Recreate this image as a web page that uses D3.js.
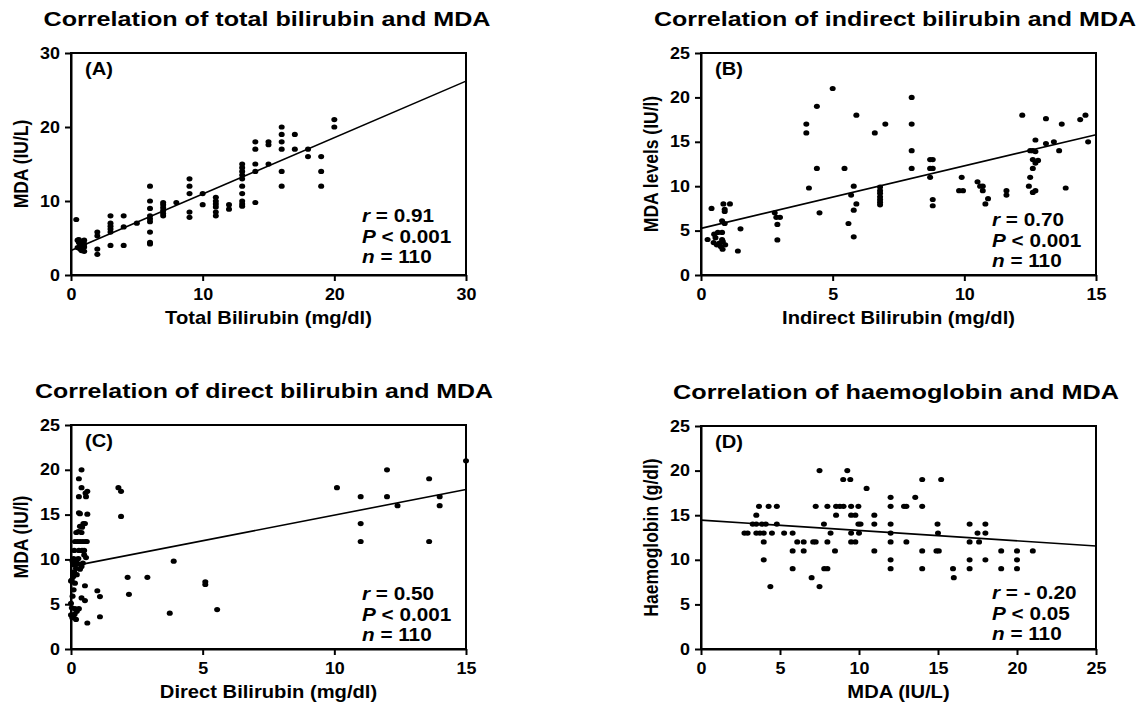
<!DOCTYPE html>
<html>
<head>
<meta charset="utf-8">
<script src="https://cdn.jsdelivr.net/npm/d3@7"></script>
<style>
  body { margin: 0; background: #fff; }
  svg text { font-family: "Liberation Sans", Arial, sans-serif; font-weight: bold; fill: #000; }
</style>
</head>
<body>
<div id="chart"></div>
<script>
// --- Données ---
const totalBiliMda = [
  [0.4,7.5],[0.5,4.7],[0.6,4.4],[0.7,4.0],[0.8,3.6],[1.0,4.7],[1.0,4.2],[1.0,3.8],[1.0,3.2],[0.5,3.7],
  [0.8,3.3],[0.6,4.8],[0.9,4.5],[0.7,3.5],
  [2,5.8],[2,5.3],[2,3.5],[2,2.8],
  [3,8],[3,7],[3,6.6],[3,6.2],[3,5.8],[3,4],
  [4,8],[4,6.5],[4,4],[5,7],
  [6,12],[6,10],[6,9],[6,8],[6,7.6],[6,7.2],[6,5.8],[6,4.4],[6,4.2],
  [7,9.8],[7,9.5],[7,9.1],[7,8.7],[7,8.3],[7,8.0],[8,9.8],
  [9,13],[9,12],[9,11],[9,8.5],[9,7.8],[10,11],[10,9.5],
  [11,10.5],[11,10],[11,9.6],[11,9.2],[11,8.5],[11,8],[12,9.5],[12,8.9],
  [13,15],[13,14.5],[13,14],[13,13.5],[13,13],[13,12],[13,11],[13,10],[13,9.6],[13,9.3],
  [14,18],[14,17],[14,15],[14,14],[14,9.8],[15,18],[15,17.6],[15,15],
  [16,20],[16,19],[16,18],[16,17],[16,14],[16,12],[17,19],[17,17],[18,17],[18,16],
  [19,16],[19,14],[19,12],[20,21],[20,20]
];

const indirectBiliMda = [
  [0.25,4],[0.4,7.5],[0.5,4.6],[0.64,4.8],[0.8,4.8],[0.48,3.65],[0.6,3.4],[0.75,3.2],[0.82,2.9],[0.8,4.0],
  [0.83,3.75],[0.92,3.4],[0.85,8.0],[0.9,7.4],[0.9,7.15],[1.1,8.0],[0.8,6.1],[0.9,5.8],[0.55,4.2],[0.7,3.6],
  [1.5,5.2],[1.4,2.7],
  [2.8,7.0],[2.86,6.5],[3.0,6.5],[2.9,5.7],[2.9,3.95],
  [4.0,17],[4.0,16],[4.1,9.8],[4.4,19],[4.4,12],[4.5,7.0],
  [5.0,21],[5.45,12],[5.6,5.8],[5.7,9.0],[5.8,10],[5.8,7.3],[5.9,8.0],[5.8,4.3],[5.9,18],
  [6.6,16],[7.0,17],
  [6.8,9.9],[6.8,9.5],[6.8,9.2],[6.8,8.8],[6.8,8.5],[6.8,8.2],[6.8,7.9],
  [8.0,20],[8.0,17],[8.0,14],[8.0,12],
  [8.7,13],[8.8,13],[8.7,12],[8.8,12],[8.7,11],[8.8,8.5],[8.8,7.8],
  [9.9,11],[9.8,9.5],[9.95,9.5],
  [10.5,10.5],[10.6,10],[10.7,10],[10.7,9.5],[10.8,8.0],[10.9,8.6],
  [11.6,9.5],[11.6,9.0],[12.2,18],
  [12.45,10],[12.5,11],[12.6,12],[12.5,14],[12.6,14],[12.6,13],[12.7,15.2],[12.7,13.9],[12.7,12.6],[12.8,12.9],
  [12.6,9.3],[12.7,9.5],
  [13.1,17.6],[13.1,14.8],[13.4,15],[13.6,14],[13.7,17],[13.85,9.8],
  [14.4,17.5],[14.6,18],[14.7,15]
];

const directBiliMda = [
  [0.4,20],[0.3,19],[0.4,18],[0.3,17],[0.62,17.6],[0.57,17],[0.55,17.4],
  [0.3,15.2],[0.34,15.1],[0.62,15.05],[0.47,14],[0.53,14],[0.34,13.7],[0.42,13.6],
  [0.2,13],[0.28,13.1],[0.4,13],
  [0.15,12],[0.25,12],[0.35,12],[0.45,12],[0.55,12],[0.6,12],
  [0.12,11],[0.3,11],[0.42,11],[0.5,11],
  [0.1,10.1],[0.28,10.1],[0.5,10.5],[0.57,10.2],
  [0.06,9.8],[0.19,9.7],[0.28,9.5],[0.4,9.2],[0.19,9.0],[0.34,8.9],[0.12,9.4],[0.45,9.6],[0.22,10.0],
  [0.03,7.7],[0.09,8.1],[0.15,7.35],[0.22,8.3],[0.0,7.6],[0.12,8.6],
  [0.1,6.6],[0.06,5.9],[0.53,7.06],[0.4,5.7],[0.53,5.4],
  [0.0,5.1],[0.03,4.6],[0.15,4.5],[0.3,4.5],[0.0,3.8],[0.09,3.6],[0.19,3.3],[0.22,4.2],[0.05,3.5],[0.14,3.9],
  [0.62,2.9],
  [1.0,6.5],[1.1,5.85],[1.1,3.6],
  [1.8,18],[1.9,17.6],[1.9,14.8],
  [2.15,8.0],[2.2,6.1],[2.9,8.0],[3.75,4.0],[3.9,9.8],[5.1,7.5],[5.1,7.2],[5.55,4.4],
  [10.1,18],[11.0,17],[11.0,14],[11.0,12],[12.0,20],[12.0,17],[12.4,16],[13.6,19],[13.6,12],
  [14.0,17],[14.0,16],[15.0,21]
];

const mdaHaemoglobin = [
  [2.75,13],[2.95,13],[3.27,14],[3.5,15],[3.67,16],[3.5,14],[3.85,14],[4.1,14],[3.5,13],[3.73,13],
  [3.97,13],[3.97,12],[3.97,10],
  [4.28,16],[4.49,13],[4.39,7],[4.8,16],[4.8,14],[5.26,13],[5.8,13],[5.8,11],[5.8,9],[6.09,12],[6.5,12],
  [6.5,11],[7.0,8],[7.1,12],[7.26,12],[7.26,16],[7.5,20],[7.5,7],[7.78,14],[7.8,9],[8.0,9],[8.0,12],
  [8.0,16],[8.2,13],[8.48,11],[8.55,15],[8.55,16],[8.79,16],[9.02,16],[9.0,19],[9.26,20],[9.45,19],
  [9.5,16],[9.5,15],[9.5,13],[9.5,12],[9.77,15],[9.77,12],[9.96,16],[9.96,14],[10.1,14],[10.0,13],
  [10.48,18],[10.97,15],[10.97,14],[10.97,11],
  [12,17],[12,16],[12,14],[12,13],[12,12],[12,10],[12,9],[12.85,16],[13.0,16],[13,12],[13.56,17],
  [14,19],[14,16],[14,11],[14,9],[14.9,11],[15.05,11],[14.97,14],[15,13],[15.2,19],[15.95,9],[16,8],
  [17,14],[17,12],[17,10],[17,9],[17.5,13],[17.6,12],[18,14],[18,13],[18,10],[19,11],[19,9],
  [20,11],[20,10],[20,9],[21,11]
];

// droites de régression (extrémités)
const fitA = [[0, 3.3], [30, 26.2]];
const fitB = [[0, 5.25], [15, 15.8]];
const fitC = [[0.05, 9.25], [15, 17.8]];
const fitD = [[0, 14.45], [25, 11.55]];

const titles = [
  "Correlation of total bilirubin and MDA",
  "Correlation of indirect bilirubin and MDA",
  "Correlation of direct bilirubin and MDA",
  "Correlation of haemoglobin and MDA"
];
const xLabels = ["Total Bilirubin (mg/dl)", "Indirect Bilirubin (mg/dl)", "Direct Bilirubin (mg/dl)", "MDA (IU/L)"];
const yLabels = ["MDA (IU/L)", "MDA levels (IU/l)", "MDA (IU/l)", "Haemoglobin (g/dl)"];
const letters = ["(A)", "(B)", "(C)", "(D)"];
const rValues = ["0.91", "0.70", "0.50", "- 0.20"];
const pValues = ["0.001", "0.001", "0.001", "0.05"];
const nValues = ["110", "110", "110", "110"];
const xTicks = [[0, 10, 20, 30], [0, 5, 10, 15], [0, 5, 10, 15], [0, 5, 10, 15, 20, 25]];
const yTicks = [[0, 10, 20, 30], [0, 5, 10, 15, 20, 25], [0, 5, 10, 15, 20, 25], [0, 5, 10, 15, 20, 25]];

// --- Mise en page ---
const W = 1141, H = 704;
const SX = 1.12; // le texte de la figure est un peu étiré horizontalement

const frames = [
  { left: 71,  right: 466,  top: 53,  bottom: 275, titleX: 267, titleY: 26,  titleW: 447, statsY: 222 },
  { left: 701, right: 1096, top: 53,  bottom: 275, titleX: 895, titleY: 26,  titleW: 482, statsY: 226 },
  { left: 71,  right: 466,  top: 425, bottom: 649, titleX: 264, titleY: 398, titleW: 458, statsY: 600 },
  { left: 701, right: 1096, top: 426, bottom: 649, titleX: 896, titleY: 399, titleW: 446, statsY: 599 }
];

const pointsList = [totalBiliMda, indirectBiliMda, directBiliMda, mdaHaemoglobin];
const fitList = [fitA, fitB, fitC, fitD];

const svg = d3.select("#chart").append("svg")
  .attr("width", W).attr("height", H)
  .style("background", "#fff");

function stretchedText(g, x, y, txt, size, anchor) {
  return g.append("text")
    .attr("transform", `translate(${x},${y}) scale(${SX},1)`)
    .attr("text-anchor", anchor || "start")
    .style("font-size", size + "px")
    .text(txt);
}

frames.forEach((f, i) => {
  const g = svg.append("g");
  const xT = xTicks[i], yT = yTicks[i];

  const x = d3.scaleLinear().domain([xT[0], xT[xT.length - 1]]).range([f.left, f.right]);
  const y = d3.scaleLinear().domain([yT[0], yT[yT.length - 1]]).range([f.bottom, f.top]);

  // titre
  g.append("text")
    .attr("x", f.titleX).attr("y", f.titleY)
    .attr("text-anchor", "middle")
    .attr("textLength", f.titleW)
    .attr("lengthAdjust", "spacingAndGlyphs")
    .style("font-size", "21px")
    .text(titles[i]);

  // cadre
  g.append("rect")
    .attr("x", f.left).attr("y", f.top)
    .attr("width", f.right - f.left).attr("height", f.bottom - f.top)
    .attr("fill", "none").attr("stroke", "#000").attr("stroke-width", 2);

  // axes
  const xAxis = g.append("g")
    .attr("transform", `translate(0,${f.bottom})`)
    .call(d3.axisBottom(x).tickValues(xT).tickSize(6).tickSizeOuter(0).tickPadding(8));
  const yAxis = g.append("g")
    .attr("transform", `translate(${f.left},0)`)
    .call(d3.axisLeft(y).tickValues(yT).tickSize(6).tickSizeOuter(0).tickPadding(5));

  [xAxis, yAxis].forEach(ax => {
    ax.select(".domain").attr("stroke-width", 2);
    ax.selectAll(".tick line").attr("stroke-width", 2);
    ax.selectAll(".tick text")
      .style("font-size", "16px")
      .style("font-family", "\"Liberation Sans\", Arial, sans-serif")
      .style("font-weight", "bold");
  });
  xAxis.selectAll(".tick text").attr("transform", `scale(${SX},1)`);
  yAxis.selectAll(".tick text").attr("transform", `scale(${SX},1)`).attr("x", -11 / SX);

  // libellés des axes
  stretchedText(g, (f.left + f.right) / 2, f.bottom + 49, xLabels[i], 18, "middle");
  g.append("text")
    .attr("transform", `translate(${f.left - 43},${(f.top + f.bottom) / 2}) scale(${SX},1) rotate(-90)`)
    .attr("text-anchor", "middle")
    .style("font-size", "17.5px")
    .text(yLabels[i]);

  // points
  g.append("g").selectAll("ellipse")
    .data(pointsList[i])
    .enter().append("ellipse")
    .attr("cx", d => x(d[0]))
    .attr("cy", d => y(d[1]))
    .attr("rx", 3).attr("ry", 2.6)
    .attr("fill", "#000");

  // droite de régression
  g.append("line")
    .attr("x1", x(fitList[i][0][0])).attr("y1", y(fitList[i][0][1]))
    .attr("x2", x(fitList[i][1][0])).attr("y2", y(fitList[i][1][1]))
    .attr("stroke", "#000").attr("stroke-width", 1.6);

  // lettre du panneau
  stretchedText(g, f.left + 14, f.top + 22, letters[i], 18);

  // statistiques
  const sx0 = f.right - 104;
  const s1 = stretchedText(g, sx0, f.statsY, "", 18.5);
  s1.append("tspan").style("font-style", "italic").text("r");
  s1.append("tspan").text(" = " + rValues[i]);
  const s2 = stretchedText(g, sx0, f.statsY + 20.5, "", 18.5);
  s2.append("tspan").style("font-style", "italic").text("P");
  s2.append("tspan").text(" < " + pValues[i]);
  const s3 = stretchedText(g, sx0, f.statsY + 41, "", 18.5);
  s3.append("tspan").style("font-style", "italic").text("n");
  s3.append("tspan").text(" = " + nValues[i]);
});
</script>
</body>
</html>
